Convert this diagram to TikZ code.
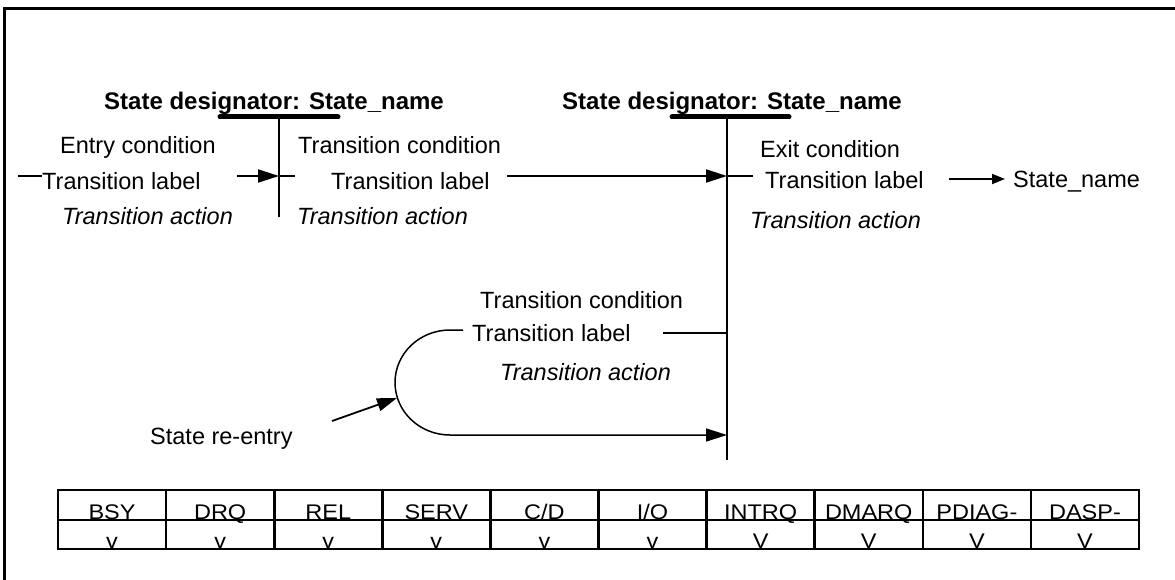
\documentclass[tikz,border=0pt]{standalone}
\usepackage{fontspec}
\setmainfont{Liberation Sans}
\usetikzlibrary{arrows.meta}
\tikzset{
  lbl/.style={inner sep=0pt, anchor=base west, font=\fontsize{23.5}{28}\selectfont},
  itl/.style={lbl, font=\fontsize{23.5}{28}\selectfont\itshape},
  hd/.style={lbl, font=\fontsize{24}{28}\selectfont\bfseries},
  cell/.style={inner sep=0pt, anchor=base, font=\fontsize{23.5}{28}\selectfont},
  ln/.style={line width=1.8pt},
  bar/.style={line width=5pt, line cap=round},
  arr/.style={ln, -{Triangle[length=21pt,width=13pt]}},
  sarr/.style={ln, -{Triangle[length=13pt,width=10pt]}},
  tbl/.style={line width=2.6pt},
}
\newcommand{\sq}[1]{\scalebox{1}[0.9]{#1}}
\begin{document}
\begin{tikzpicture}[x=1pt,y=-1pt]
\useasboundingbox (0,0) rectangle (1175,580);
% frame
\draw[line width=3pt] (4,585) -- (4,9) -- (1180,9);

% headings
\node[hd] (h1) at (104,110) {State designator: State\_name};
\node[hd] (h2) at (562,110) {State designator: State\_name};
\coordinate (b1l) at (220,117); \coordinate (b1r) at (338,117);
\coordinate (b2l) at (672,117); \coordinate (b2r) at (789,117);
\draw[bar] (b1l) -- (b1r);
\draw[bar] (b2l) -- (b2r);
\coordinate (v1t) at (279,117); \coordinate (v1b) at (279,217);
\coordinate (v2t) at (727,117); \coordinate (v2b) at (727,460);
\draw[ln] (v1t) -- (v1b);
\draw[ln] (v2t) -- (v2b);

% left texts
\node[lbl] (ec) at (60,153.5) {Entry condition};
\node[lbl] (tl1) at (42,190) {Transition label};
\node[itl] (ta1) at (62,224.5) {Transition action};
% middle texts
\node[lbl] (tc2) at (298,153.5) {Transition condition};
\node[lbl] (tl2) at (331,190) {Transition label};
\node[itl] (ta2) at (297,224.5) {Transition action};
% right texts
\node[lbl] (xc) at (760,158) {Exit condition};
\node[lbl] (tl3) at (765,189) {Transition label};
\node[itl] (ta3) at (750,229) {Transition action};
\node[lbl] (sn) at (1013,188) {State\_name};

% main line
\coordinate (m0) at (18,176); \coordinate (m1) at (42,176);
\coordinate (m2) at (237,176); \coordinate (m3) at (279,176);
\coordinate (m4) at (295,176); \coordinate (m5) at (507,176);
\coordinate (m6) at (727,176); \coordinate (m7) at (753,176);
\coordinate (m8) at (949,179); \coordinate (m9) at (1005,179);
\draw[ln] (m0) -- (m1);
\draw[arr] (m2) -- (m3);
\draw[ln] (m3) -- (m4);
\draw[arr] (m5) -- (m6);
\draw[ln] (m6) -- (m7);
\draw[sarr] (m8) -- (m9);

% lower loop
\node[lbl] (tc4) at (480,308) {Transition condition};
\node[itl] (ta4) at (500,380) {Transition action};
\node[lbl] (tl4) at (472,341) {Transition label};
\coordinate (l0) at (663,333); \coordinate (l1) at (727,333);
\draw[ln] (l0) -- (l1);
\coordinate (c0) at (463,330);
\coordinate (c1) at (450,330);
\coordinate (c2) at (727,435);
\draw[line width=1.5pt, -{Triangle[length=21pt,width=13pt]}] (c0) -- (c1) arc[start angle=270, end angle=90, x radius=55, y radius=52.5] -- (c2);

\node[lbl] (sre) at (150,444) {State re-entry};
\coordinate (r0) at (332,421); \coordinate (r1) at (397,398);
\draw[ln, -{Triangle[length=20pt,width=13pt]}] (r0) -- (r1);

% table
\draw[tbl] (58,490) rectangle (1139,549);
\draw[tbl] (58,520) -- (1139,520);
\foreach \i in {1,...,9} {
  \draw[tbl] ({58+108.1*\i},490) -- ({58+108.1*\i},549);
}
\foreach \i/\top/\bot in {0/BSY/v,1/DRQ/v,2/REL/v,3/SERV/v,4/C\slash D/v,5/I\slash O/v,6/INTRQ/V,7/DMARQ/V,8/PDIAG-/V,9/DASP-/V} {
  \node[cell] (ca\i) at ({112.05+108.1*\i},519) {\sq{\top}};
  \node[cell] (cb\i) at ({112.05+108.1*\i},548) {\sq{\bot}};
}
\end{tikzpicture}
\end{document}
